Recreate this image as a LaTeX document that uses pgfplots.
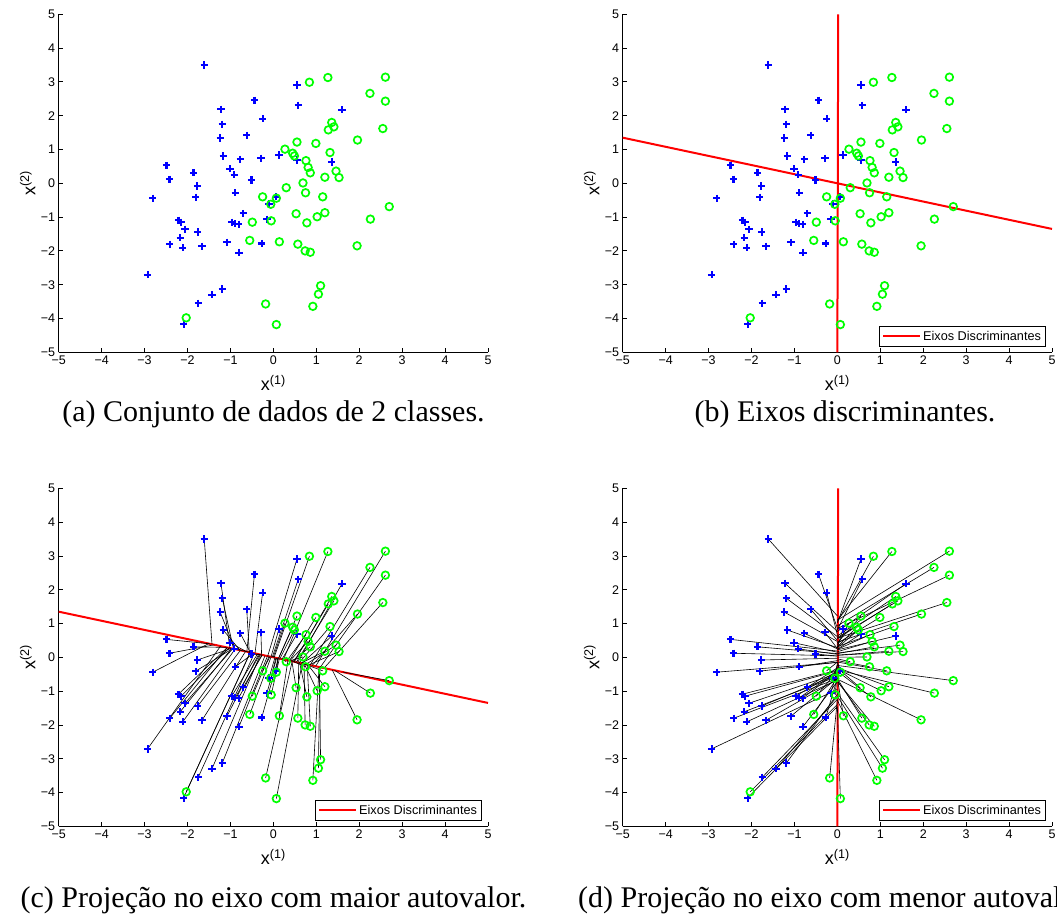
\documentclass[border=0pt]{standalone}
\usepackage{fontspec}
\setmainfont{Liberation Serif}
\setsansfont{Liberation Sans}
\usepackage{pgfplots}
\pgfplotsset{compat=1.18}
\usepackage{pgfplotstable}

\definecolor{mblue}{rgb}{0,0,1}
\definecolor{mgreen}{rgb}{0,1,0}
\definecolor{mred}{rgb}{1,0,0}

\pgfplotstableread{
x y
-1.61 3.50
0.55 2.91
-0.44 2.46
-1.22 2.19
0.58 2.31
-0.25 1.91
-1.19 1.75
-0.62 1.42
-1.24 1.34
-1.17 0.81
-0.77 0.71
-0.29 0.74
0.13 0.84
-2.49 0.53
-1.86 0.31
-1.01 0.43
-0.91 0.25
-2.42 0.12
-1.77 -0.08
-0.51 0.10
-0.89 -0.28
-2.81 -0.44
-1.81 -0.41
1.60 2.18
0.55 0.69
1.36 0.63
0.07 -0.40
-0.10 -0.61
-0.70 -0.89
-2.21 -1.09
-2.15 -1.15
-0.97 -1.15
-0.89 -1.20
-0.81 -1.21
-0.15 -1.06
-2.06 -1.36
-1.76 -1.44
-2.17 -1.61
-2.41 -1.80
-2.11 -1.91
-1.66 -1.86
-1.08 -1.74
-0.27 -1.78
-0.80 -2.05
-2.93 -2.71
-1.19 -3.13
-1.43 -3.30
-1.75 -3.55
-2.09 -4.16
}\blueclass

\pgfplotstableread{
x y
0.84 2.99
1.27 3.13
2.61 3.14
2.25 2.66
2.61 2.43
1.36 1.80
1.41 1.67
1.28 1.58
2.55 1.62
1.96 1.28
0.55 1.22
0.99 1.18
0.27 1.01
0.45 0.89
0.49 0.81
1.32 0.91
0.76 0.67
0.81 0.47
0.86 0.31
1.46 0.36
1.53 0.17
1.20 0.18
0.69 0.01
0.30 -0.13
0.75 -0.28
-0.25 -0.40
0.07 -0.44
1.15 -0.40
-0.06 -0.62
2.70 -0.69
0.53 -0.90
1.20 -0.87
1.02 -0.99
0.78 -1.17
2.26 -1.06
-0.49 -1.15
-0.05 -1.11
-0.55 -1.69
0.14 -1.73
0.57 -1.80
0.74 -2.00
0.86 -2.04
1.95 -1.85
1.10 -3.03
1.05 -3.28
-0.18 -3.57
0.92 -3.64
0.07 -4.18
-2.03 -3.98
}\greenclass

\pgfplotsset{
  myax/.style={
    scale only axis, width=429.3pt, height=338pt,
    xmin=-5, xmax=5, ymin=-5, ymax=5,
    axis x line*=bottom, axis y line*=left,
    axis line style={-, line width=0.9pt, black},
    tick align=inside, major tick length=4pt,
    every tick/.style={black, line width=0.8pt},
    xtick={-5,...,5}, ytick={-5,...,5},
    xticklabels={−5,−4,−3,−2,−1,0,1,2,3,4,5},
    yticklabels={−5,−4,−3,−2,−1,0,1,2,3,4,5},
    tick label style={font=\sffamily\fontsize{12.5}{12.5}\selectfont},
    xlabel={\sffamily\fontsize{18}{18}\selectfont x\textsuperscript{(1)}},
    ylabel={\sffamily\fontsize{18}{18}\selectfont x\textsuperscript{(2)}},
    xlabel style={at={(axis description cs:0.5,-0.09)}, anchor=center},
    ylabel style={at={(axis description cs:-0.072,0.5)}, anchor=center},
    legend style={at={(axis description cs:1,0)}, anchor=south east,
      xshift=-6pt, yshift=5.6pt, draw=black, line width=0.8pt,
      font=\sffamily\fontsize{12.7}{12.7}\selectfont, inner sep=2.6pt,
      legend cell align=left},
    legend image code/.code={\draw[#1] (0pt,0pt) -- (37pt,0pt);},
  },
  bluepts/.style={only marks, mark=+, mark size=3.6pt, line width=2.1pt, mblue},
  greenpts/.style={only marks, mark=o, mark size=3.8pt, line width=1.7pt, mgreen},
  redax/.style={mred, line width=2pt, no markers},
}

\begin{document}
\begin{tikzpicture}
\useasboundingbox (0,0) rectangle (1057pt,922pt);

% (a)
\begin{axis}[myax, at={(58.7pt,569.7pt)}, anchor=south west]
\addplot[bluepts] table {\blueclass};
\addplot[greenpts] table {\greenclass};
\end{axis}

% (b)
\begin{axis}[myax, at={(622.7pt,569.7pt)}, anchor=south west]
\addplot[bluepts, forget plot] table {\blueclass};
\addplot[greenpts, forget plot] table {\greenclass};
\addplot[redax] coordinates {(-5,1.35) (5,-1.35)};
\addlegendentry{Eixos Discriminantes}
\addplot[redax, forget plot] coordinates {(0,-5) (0.02,5)};
\end{axis}

% (c)
\begin{axis}[myax, at={(58.7pt,95.7pt)}, anchor=south west]
\addplot[bluepts, forget plot] table {\blueclass};
\addplot[greenpts, forget plot] table {\greenclass};
\addplot[redax] coordinates {(-5,1.35) (5,-1.35)};
\addlegendentry{Eixos Discriminantes}
\addplot[black, line width=0.6pt, no markers, forget plot,
  quiver={u={0.6*(0.9654*\thisrow{x}-0.2607*\thisrow{y})*0.9654-\thisrow{x}},
          v={-0.6*(0.9654*\thisrow{x}-0.2607*\thisrow{y})*0.2607-\thisrow{y}}}]
  table {\blueclass};
\addplot[black, line width=0.6pt, no markers, forget plot,
  quiver={u={0.6*(0.9654*\thisrow{x}-0.2607*\thisrow{y})*0.9654-\thisrow{x}},
          v={-0.6*(0.9654*\thisrow{x}-0.2607*\thisrow{y})*0.2607-\thisrow{y}}}]
  table {\greenclass};
\end{axis}

% (d)
\begin{axis}[myax, at={(622.7pt,95.7pt)}, anchor=south west]
\addplot[bluepts, forget plot] table {\blueclass};
\addplot[greenpts, forget plot] table {\greenclass};
\addplot[redax] coordinates {(0,-5) (0.02,5)};
\addlegendentry{Eixos Discriminantes}
\addplot[black, line width=0.6pt, no markers, forget plot,
  quiver={u={-\thisrow{x}}, v={-0.65*\thisrow{y}}}]
  table {\blueclass};
\addplot[black, line width=0.6pt, no markers, forget plot,
  quiver={u={-\thisrow{x}}, v={-0.65*\thisrow{y}}}]
  table {\greenclass};
\end{axis}

\node[font=\fontsize{30}{32}\selectfont] at (273.5pt,508pt) {(a) Conjunto de dados de 2 classes.};
\node[font=\fontsize{30}{32}\selectfont] at (845pt,508pt) {(b) Eixos discriminantes.};
\node[font=\fontsize{30}{32}\selectfont] at (273.5pt,22pt) {(c) Projeção no eixo com maior autovalor.};
\node[font=\fontsize{30}{32}\selectfont, anchor=west, inner sep=0pt] at (578pt,22pt) {(d) Projeção no eixo com menor autovalor.};
\end{tikzpicture}
\end{document}
